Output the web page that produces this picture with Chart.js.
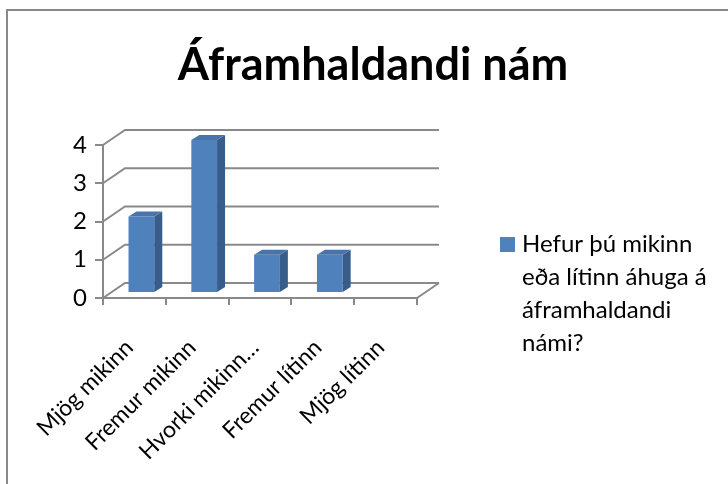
<!DOCTYPE html>
<html>
<head>
<meta charset="utf-8">
<script src="https://cdn.jsdelivr.net/npm/chart.js@4/dist/chart.umd.min.js"></script>
<style>
	html, body { margin:0; padding:0; background:#fff; overflow:hidden; }
	#wrap { position:relative; width:728px; height:484px; overflow:hidden; }
	#frame { position:absolute; left:6px; top:9px; width:800px; height:600px; border-left:2px solid #898989; border-top:2px solid #898989; }
	canvas { position:absolute; left:0; top:0; }
</style>
</head>
<body>
<div id="wrap"><div id="frame"></div><canvas id="myChart" width="728" height="484"></canvas></div>
<script>
// 데이터
var chartTitle = 'Áframhaldandi nám';
var categories = ['Mjög mikinn', 'Fremur mikinn', 'Hvorki mikinn…', 'Fremur lítinn', 'Mjög lítinn'];
var values = [2, 4, 1, 1, 0];
var yTicks = [0, 1, 2, 3, 4];
var seriesName = 'Hefur þú mikinn eða lítinn áhuga á áframhaldandi námi?';
var legendLines = ['Hefur þú mikinn', 'eða lítinn áhuga á', 'áframhaldandi', 'námi?'];

// 색 / 3D 모양
var frontColor = '#4F81BD';
var sideColor = '#385D8A';
var topColor = '#4874AB';
var gridColor = '#898989';
var fontFam = 'Lato, "Open Sans", sans-serif';
var wallX = 22, wallY = -15;   // 뒷벽 깊이
var shiftX = 7, shiftY = -5;   // 막대 위치 (깊이 1/3)
var barDX = 8, barDY = -5;     // 막대 두께

// ---------------------- 가짜 3D 그리기 ----------------------
var fake3d = {
	id: 'fake3d',
	beforeDatasetsDraw: function(chart) {
		var ctx = chart.ctx, a = chart.chartArea, y = chart.scales.y;
		ctx.save();
		ctx.strokeStyle = gridColor;
		ctx.lineWidth = 2;
		ctx.beginPath();
		yTicks.forEach(function(v) {
			var py = y.getPixelForValue(v);
			ctx.moveTo(a.left, py);
			ctx.lineTo(a.left + wallX, py + wallY);
			ctx.lineTo(a.right + wallX, py + wallY);
		});
		var p0 = y.getPixelForValue(0);
		ctx.moveTo(a.right, p0);
		ctx.lineTo(a.right + wallX, p0 + wallY);
		ctx.stroke();
		ctx.restore();
		// 막대는 안쪽으로 밀어서
		ctx.save();
		ctx.translate(shiftX, shiftY);
	},
	afterDatasetsDraw: function(chart) {
		var ctx = chart.ctx;
		chart.getDatasetMeta(0).data.forEach(function(bar, i) {
			if (!values[i]) return;
			var l = bar.x - bar.width / 2, r = bar.x + bar.width / 2, t = bar.y, b = bar.base;
			// 옆면
			ctx.fillStyle = sideColor;
			ctx.beginPath();
			ctx.moveTo(r, b); ctx.lineTo(r + barDX, b + barDY);
			ctx.lineTo(r + barDX, t + barDY); ctx.lineTo(r, t);
			ctx.closePath(); ctx.fill();
			// 윗면
			ctx.fillStyle = topColor;
			ctx.beginPath();
			ctx.moveTo(l, t); ctx.lineTo(l + barDX, t + barDY);
			ctx.lineTo(r + barDX, t + barDY); ctx.lineTo(r, t);
			ctx.closePath(); ctx.fill();
		});
		ctx.restore();
	},
	afterDraw: function(chart) {
		// 범례
		var ctx = chart.ctx;
		var lx = chart.width - 228, ly = 237;
		ctx.save();
		ctx.fillStyle = frontColor;
		ctx.fillRect(lx, ly, 15, 15);
		ctx.fillStyle = '#000';
		ctx.font = '24px ' + fontFam;
		ctx.textBaseline = 'alphabetic';
		legendLines.forEach(function(line, i) {
			ctx.fillText(line, lx + 22, ly + 15 + i * 33);
		});
		ctx.restore();
	}
};

const ctx = document.getElementById('myChart').getContext('2d');
const myChart = new Chart(ctx, {
	type: 'bar',
	data: {
		labels: categories,
		datasets: [{
			label: seriesName,
			data: values,
			backgroundColor: frontColor,
			borderWidth: 0,
			barPercentage: 1,
			categoryPercentage: 0.41,
			clip: false
		}]
	},
	options: {
		responsive: false,
		animation: false,
		layout: { padding: { left: 18, top: 0, right: 0, bottom: 0 } },
		plugins: {
			legend: { display: false },
			tooltip: { enabled: false },
			title: {
				display: true,
				text: chartTitle,
				color: '#000',
				font: { family: fontFam, size: 45, weight: 'bold', lineHeight: 1.2 },
				padding: { top: 38, bottom: 53 }
			}
		},
		scales: {
			x: {
				afterFit: function(s) { s.height = 186; },
				grid: { display: true, drawOnChartArea: false, drawTicks: true, tickLength: 7, color: gridColor, lineWidth: 2 },
				border: { display: true, color: gridColor, width: 2 },
				ticks: { color: '#000', font: { family: fontFam, size: 23 }, minRotation: 45, maxRotation: 45, padding: 29, labelOffset: -5 }
			},
			y: {
				min: 0,
				max: 4,
				afterFit: function(s) { s.width = 85; },
				afterBuildTicks: function(s) { s.ticks = yTicks.map(function(v) { return { value: v }; }); },
				grid: { display: true, drawOnChartArea: false, drawTicks: true, tickLength: 8, color: gridColor, lineWidth: 2 },
				border: { display: true, color: gridColor, width: 2 },
				ticks: { color: '#000', font: { family: fontFam, size: 24 }, padding: 8 }
			},
			y2: {
				position: 'right',
				afterFit: function(s) { s.width = 311; },
				ticks: { display: false },
				grid: { display: false },
				border: { display: false }
			}
		}
	},
	plugins: [fake3d]
});
</script>
</body>
</html>
